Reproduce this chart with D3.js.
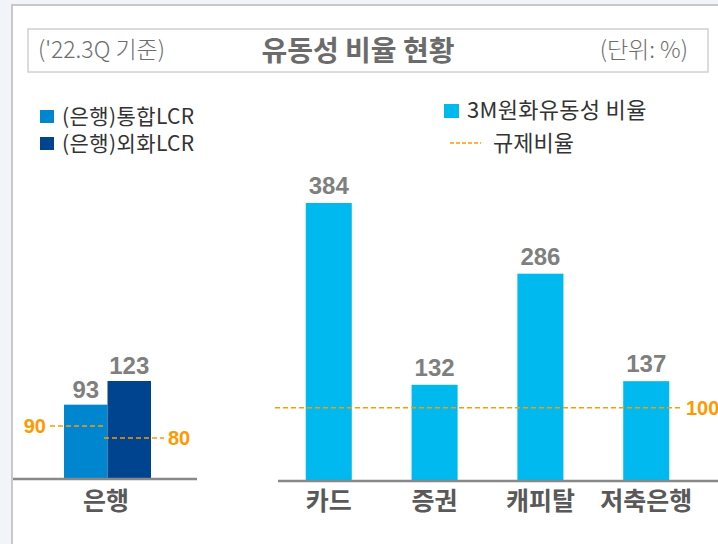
<!DOCTYPE html>
<html>
<head>
<meta charset="utf-8">
<script src="https://cdn.jsdelivr.net/npm/d3@7"></script>
<style>
  body { margin: 0; background: #f1f4f9; }
  svg { display: block; }
</style>
</head>
<body>
<svg width="718" height="544"></svg>
<script>
// data
var bankCats = ["은행"];
var bankSeries = ["(은행)통합LCR", "(은행)외화LCR"];
var bankValues = [93, 123];
var bankLimits = [90, 80];
var otherCats = ["카드", "증권", "캐피탈", "저축은행"];
var otherValues = [384, 132, 286, 137];
var otherLimit = 100;
var otherSeries = "3M원화유동성 비율";
var limitLabel = "규제비율";

var kr = "'Noto Sans CJK KR', 'Noto Sans', sans-serif";
var num = "'Liberation Sans', Arial, sans-serif";
var orange = "#ff9900";
var bankColors = ["#0085cf", "#00438f"];
var cyan = "#00b9ef";

var svg = d3.select("svg");

// white panel
svg.append("rect").attr("x", 12).attr("y", 5).attr("width", 720).attr("height", 560)
  .attr("fill", "#fff").attr("stroke", "#c8c8c8").attr("stroke-width", 2);

// title box
svg.append("rect").attr("x", 28).attr("y", 29).attr("width", 680).attr("height", 43)
  .attr("fill", "#fff").attr("stroke", "#d0d0d0").attr("stroke-width", 1.5);
svg.append("text").attr("x", 38).attr("y", 58).text("('22.3Q 기준)")
  .style("font-family", kr).style("font-size", "23px").style("font-weight", "300").style("fill", "#6e6e6e");
svg.append("text").attr("x", 358).attr("y", 61).attr("text-anchor", "middle").text("유동성 비율 현황")
  .style("font-family", kr).style("font-size", "28px").style("font-weight", "bold").style("fill", "#6b6b6b");
svg.append("text").attr("x", 688).attr("y", 58).attr("text-anchor", "end").text("(단위: %)")
  .style("font-family", kr).style("font-size", "23px").style("font-weight", "300").style("fill", "#6e6e6e");

// legends
bankSeries.forEach(function (s, i) {
  svg.append("rect").attr("x", 40).attr("y", 110 + i * 27).attr("width", 14).attr("height", 13).attr("fill", bankColors[i]);
  svg.append("text").attr("x", 62).attr("y", 124 + i * 27).text(s)
    .style("font-family", kr).style("font-size", "21px").style("letter-spacing", "0.4px").style("fill", "#333");
});
svg.append("rect").attr("x", 444).attr("y", 104).attr("width", 15).attr("height", 14).attr("fill", cyan);
svg.append("text").attr("x", 467).attr("y", 118).text(otherSeries)
  .style("font-family", kr).style("font-size", "22px").style("letter-spacing", "0.3px").style("fill", "#333");
svg.append("line").attr("x1", 450).attr("x2", 481).attr("y1", 143).attr("y2", 143)
  .attr("stroke", orange).attr("stroke-width", 1.5).attr("stroke-dasharray", "4,2");
svg.append("text").attr("x", 493).attr("y", 151).text(limitLabel)
  .style("font-family", kr).style("font-size", "22px").style("fill", "#333");

// left chart (banks)
var base1 = 478;
var yL = d3.scaleLinear().domain([0, 123]).range([base1, 381]);
var xL = d3.scaleBand().domain(bankSeries).range([64, 151]).padding(0);

svg.selectAll(".bbar").data(bankValues).enter().append("rect")
  .attr("x", function (d, i) { return xL(bankSeries[i]); })
  .attr("y", function (d) { return yL(d); })
  .attr("width", xL.bandwidth())
  .attr("height", function (d) { return base1 - yL(d); })
  .attr("fill", function (d, i) { return bankColors[i]; });

svg.selectAll(".blab").data(bankValues).enter().append("text")
  .attr("x", function (d, i) { return xL(bankSeries[i]) + xL.bandwidth() / 2; })
  .attr("y", function (d) { return yL(d) - 7; })
  .attr("text-anchor", "middle").text(function (d) { return d; })
  .style("font-family", num).style("font-size", "24px").style("font-weight", "bold").style("fill", "#7f7f7f");

// limit lines for banks (drawn just below the bar tops, as in the original)
svg.append("line").attr("x1", 50).attr("x2", 104).attr("y1", yL(bankLimits[0]) + 19).attr("y2", yL(bankLimits[0]) + 19)
  .attr("stroke", orange).attr("stroke-width", 1.5).attr("stroke-dasharray", "5,3");
svg.append("text").attr("x", 46).attr("y", yL(bankLimits[0]) + 26).attr("text-anchor", "end").text(bankLimits[0])
  .style("font-family", num).style("font-size", "20px").style("font-weight", "bold").style("fill", orange);
svg.append("line").attr("x1", 104).attr("x2", 164).attr("y1", yL(bankLimits[1]) + 23).attr("y2", yL(bankLimits[1]) + 23)
  .attr("stroke", orange).attr("stroke-width", 1.5).attr("stroke-dasharray", "5,3");
svg.append("text").attr("x", 168).attr("y", yL(bankLimits[1]) + 30).text(bankLimits[1])
  .style("font-family", num).style("font-size", "20px").style("font-weight", "bold").style("fill", orange);

svg.append("line").attr("x1", 13).attr("x2", 197).attr("y1", base1 + 1).attr("y2", base1 + 1)
  .attr("stroke", "#888").attr("stroke-width", 2.5);
svg.append("text").attr("x", 106).attr("y", 510).attr("text-anchor", "middle").text(bankCats[0])
  .style("font-family", kr).style("font-size", "25px").style("font-weight", "bold").style("fill", "#595959");

// right chart (others)
var base2 = 480;
var yR = d3.scaleLinear().domain([0, 384]).range([base2, 203]);
var xR = d3.scaleBand().domain(otherCats).range([274, 701]).paddingInner(0.565).paddingOuter(0.3);

svg.selectAll(".obar").data(otherValues).enter().append("rect")
  .attr("x", function (d, i) { return xR(otherCats[i]); })
  .attr("y", function (d) { return yR(d); })
  .attr("width", xR.bandwidth())
  .attr("height", function (d) { return base2 - yR(d); })
  .attr("fill", cyan);

svg.selectAll(".olab").data(otherValues).enter().append("text")
  .attr("x", function (d, i) { return xR(otherCats[i]) + xR.bandwidth() / 2; })
  .attr("y", function (d) { return yR(d) - 9; })
  .attr("text-anchor", "middle").text(function (d) { return d; })
  .style("font-family", num).style("font-size", "24px").style("font-weight", "bold").style("fill", "#7f7f7f");

svg.append("line").attr("x1", 275).attr("x2", 680).attr("y1", yR(otherLimit)).attr("y2", yR(otherLimit))
  .attr("stroke", orange).attr("stroke-width", 1.5).attr("stroke-dasharray", "5,3");
svg.append("text").attr("x", 686).attr("y", yR(otherLimit) + 7).text(otherLimit)
  .style("font-family", num).style("font-size", "20px").style("font-weight", "bold").style("fill", orange);

svg.append("line").attr("x1", 278).attr("x2", 718).attr("y1", base2 + 1).attr("y2", base2 + 1)
  .attr("stroke", "#888").attr("stroke-width", 2.5);
svg.selectAll(".ocat").data(otherCats).enter().append("text")
  .attr("x", function (d) { return xR(d) + xR.bandwidth() / 2; })
  .attr("y", 510).attr("text-anchor", "middle").text(function (d) { return d; })
  .style("font-family", kr).style("font-size", "25px").style("font-weight", "bold").style("fill", "#595959");
</script>
</body>
</html>
